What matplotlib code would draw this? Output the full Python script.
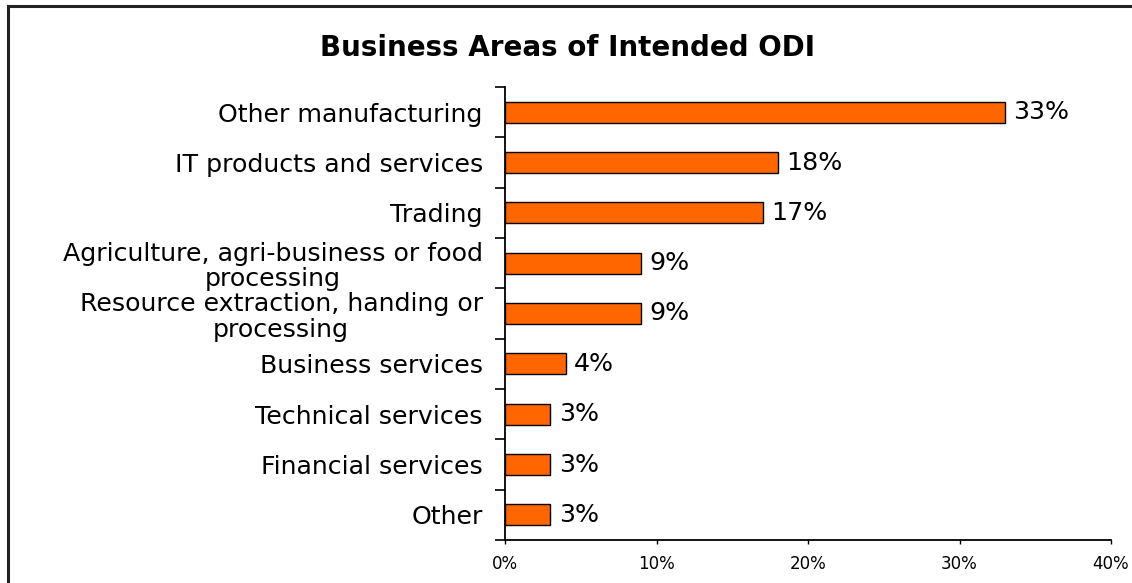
import matplotlib
matplotlib.use("Agg")
import matplotlib.pyplot as plt
import numpy as np
from matplotlib.lines import Line2D

categories = [
    "Other manufacturing",
    "IT products and services",
    "Trading",
    "Agriculture, agri-business or food\nprocessing",
    "Resource extraction, handing or\nprocessing",
    "Business services",
    "Technical services",
    "Financial services",
    "Other",
]
values = [33, 18, 17, 9, 9, 4, 3, 3, 3]
x_ticks = [0, 10, 20, 30, 40]
x_tick_labels = ["0%", "10%", "20%", "30%", "40%"]
title = "Business Areas of Intended ODI"

plt.rcParams["font.family"] = ["DejaVu Sans"]

W, H = 1132, 583
fig = plt.figure(figsize=(W / 100, H / 100), dpi=100)
fig.patch.set_facecolor("white")

# outer frame (top and left edges visible)
fig.add_artist(Line2D([7.5 / W, 7.5 / W], [0, 1 - 6 / H], transform=fig.transFigure,
                      color="#222222", lw=2.2))
fig.add_artist(Line2D([7.5 / W, 1], [1 - 6 / H, 1 - 6 / H], transform=fig.transFigure,
                      color="#222222", lw=2.2))

ax_left, ax_right = 505 / W, 1111 / W
ax_bottom, ax_top = (H - 540) / H, (H - 87) / H
ax = fig.add_axes([ax_left, ax_bottom, ax_right - ax_left, ax_top - ax_bottom])

n = len(categories)
ypos = np.arange(n)[::-1]
ax.barh(ypos, values, height=0.42, color="#FF6600", edgecolor="black", linewidth=1.0)

for y, v in zip(ypos, values):
    ax.text(v + 0.55, y, f"{v}%", va="center", ha="left", fontsize=18.2, color="black")

ax.set_xlim(0, 40)
ax.set_ylim(-0.5, n - 0.5)

ax.set_xticks(x_ticks)
ax.set_xticklabels(x_tick_labels, fontsize=12)
ax.tick_params(axis="x", direction="out", length=3, width=1, pad=8, colors="black")

# tick marks at category boundaries, labels at category centres
ax.set_yticks(np.arange(-0.5, n, 1.0))
ax.set_yticklabels([])
ax.tick_params(axis="y", which="major", direction="out", length=7, width=1.2)
ax.set_yticks(ypos, minor=True)
ax.set_yticklabels(categories, minor=True, fontsize=18.2, linespacing=1.08)
ax.tick_params(axis="y", which="minor", length=0, pad=16)
for lbl in ax.get_yticklabels(minor=True):
    lbl.set_horizontalalignment("right")
    lbl.set_multialignment("center")

for side in ("top", "right"):
    ax.spines[side].set_visible(False)
for side in ("left", "bottom"):
    ax.spines[side].set_linewidth(1.3)
    ax.spines[side].set_color("black")

fig.text(567 / W, 1 - 48 / H, title, ha="center", va="center", fontsize=20, fontweight="bold")

fig.savefig("out.png", dpi=100)
